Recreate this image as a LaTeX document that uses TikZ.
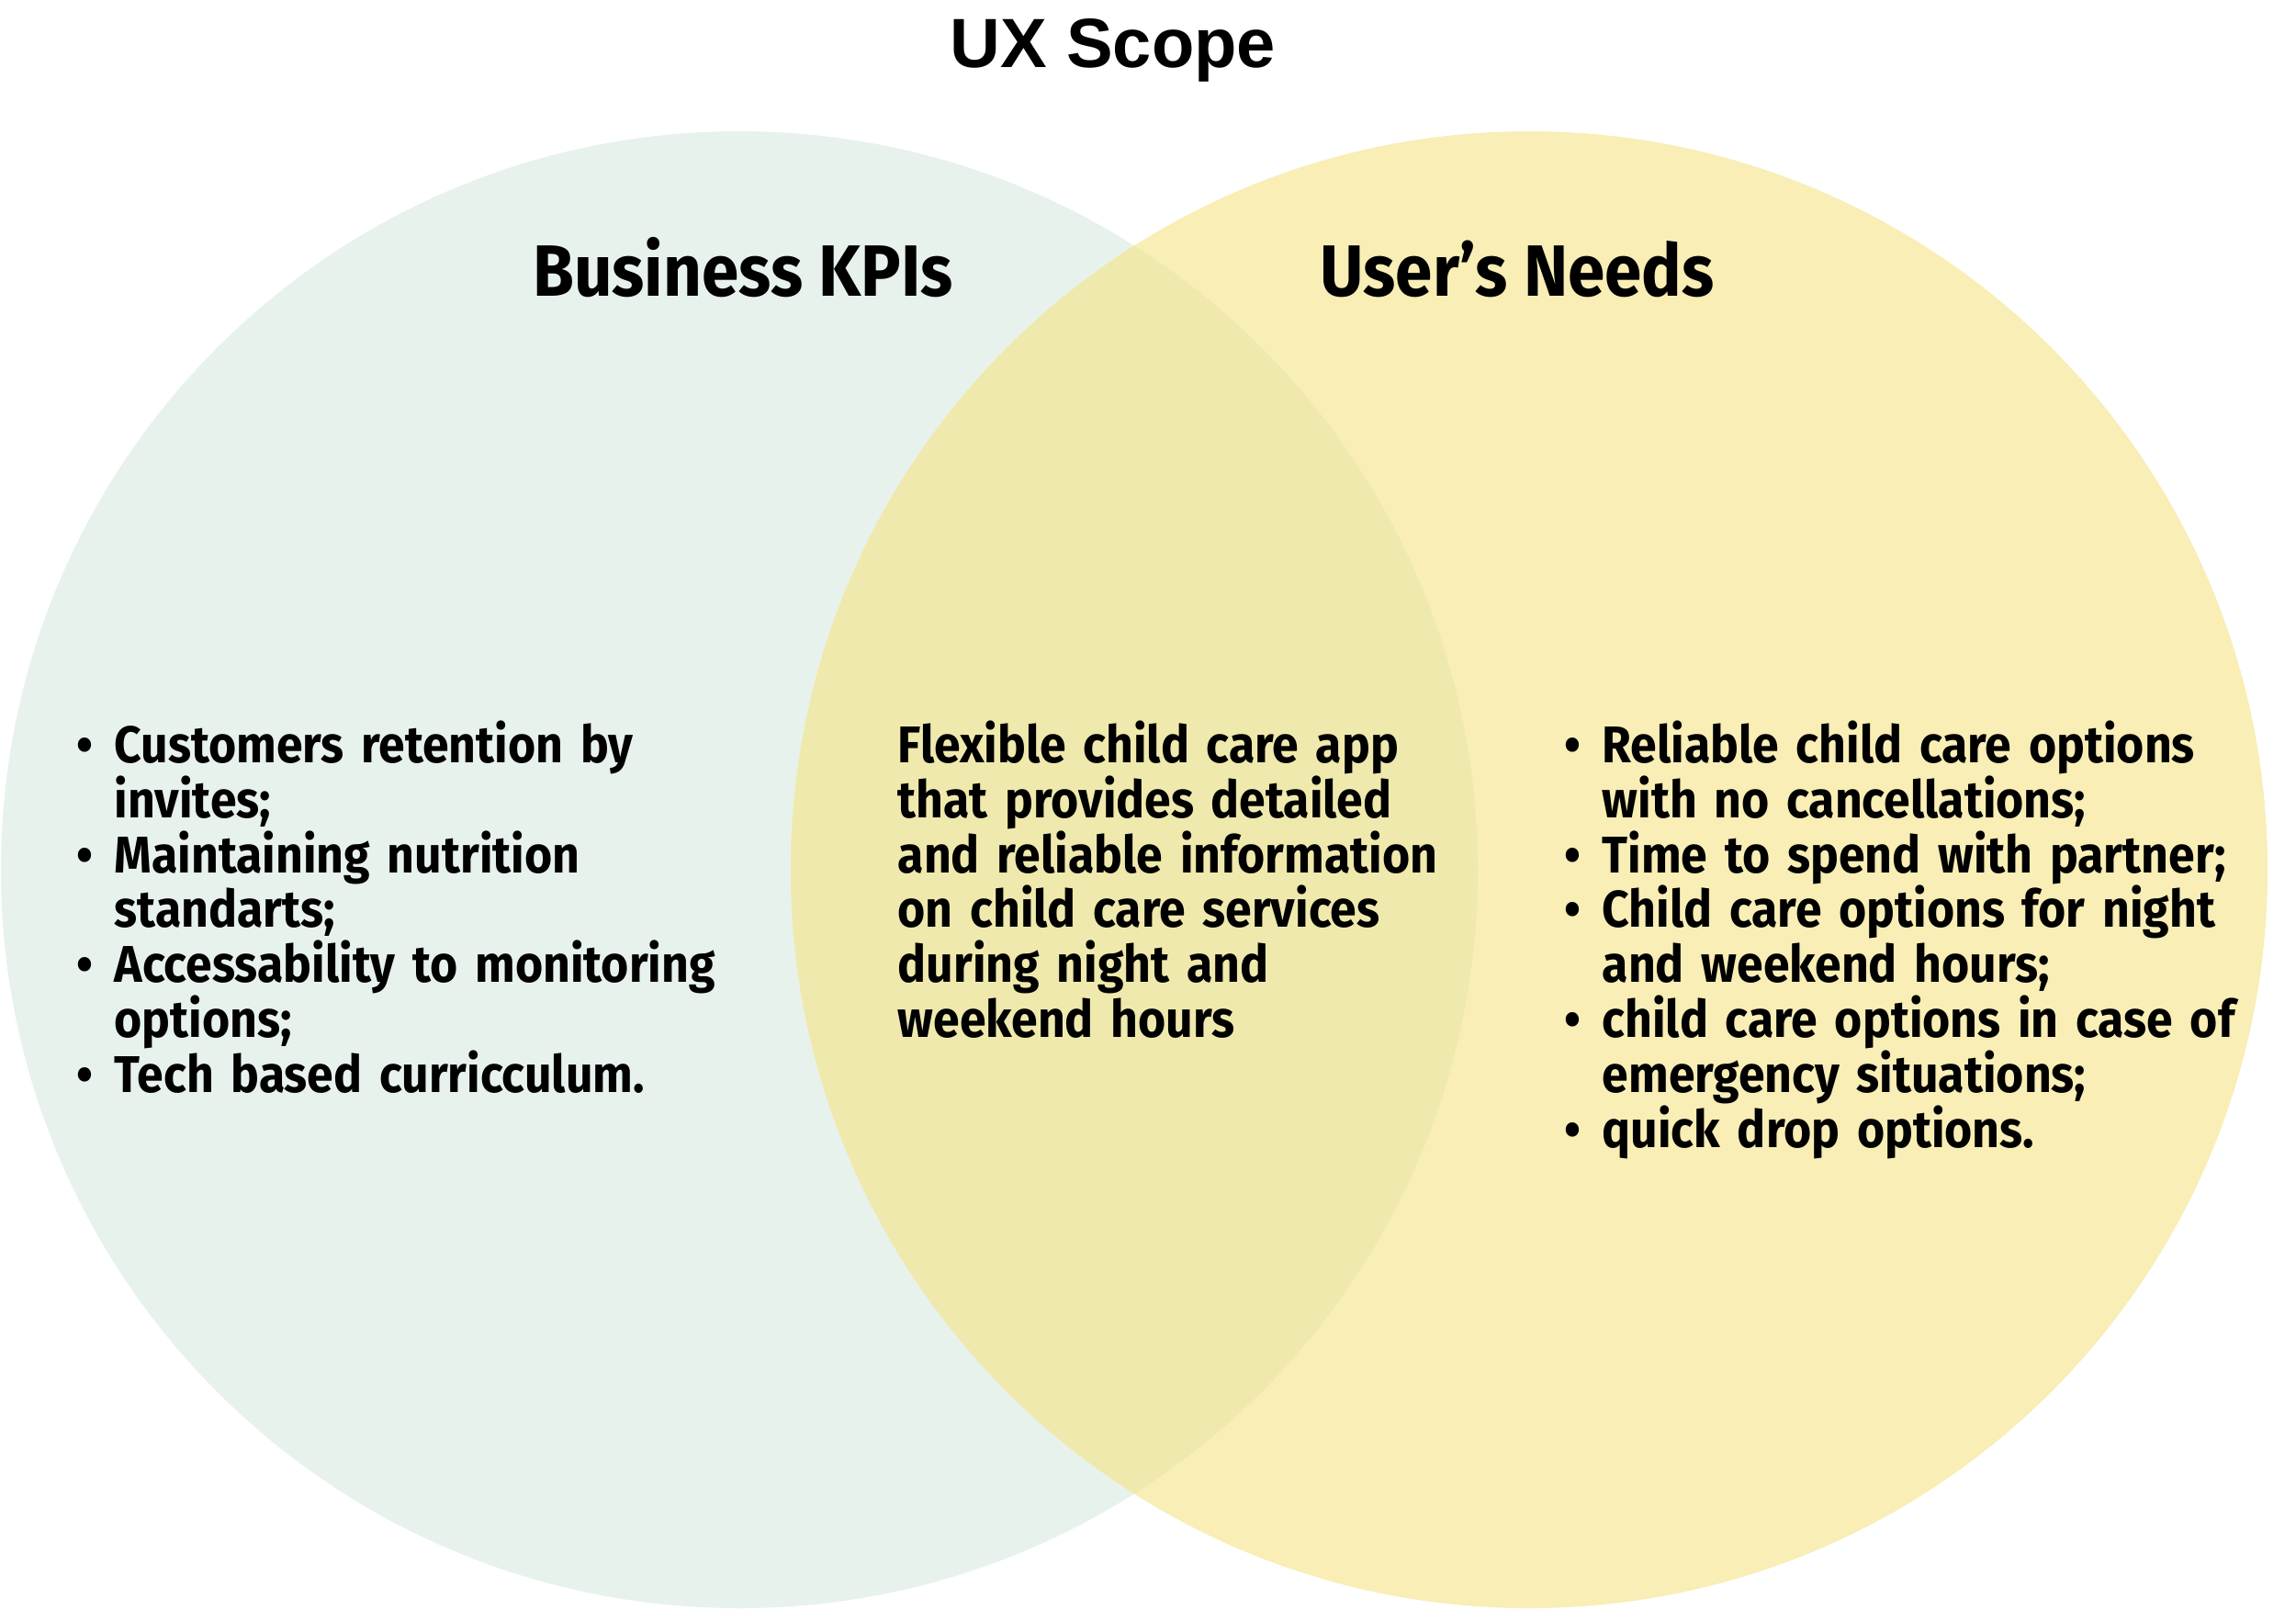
\documentclass[tikz,border=0pt]{standalone}
\usepackage{fontspec}
\setmainfont{Fira Sans}[FakeStretch=0.92]
\newfontfamily\titlefont{Liberation Sans}
\usetikzlibrary{positioning}

\definecolor{kpigreen}{HTML}{E8F2EC}
\definecolor{needyellow}{HTML}{F8EEB6}
\definecolor{overlapyellow}{HTML}{EFE9AD}

\tikzset{
  title/.style={
    anchor = base,
    inner sep = 0pt,
    font = \titlefont\bfseries\fontsize{21.6pt}{26pt}\selectfont
  },
  heading/.style={
    anchor = base,
    inner sep = 0pt,
    font = \bfseries\fontsize{22.5pt}{26pt}\selectfont
  },
  listtext/.style={
    anchor = base west,
    inner sep = 0pt,
    align = left,
    text width = 9cm,
    font = \bfseries\fontsize{16pt}{17.07pt}\selectfont
  }
}
\newcommand{\bul}{\noindent\hangindent=0.41cm\hangafter=1\makebox[0.41cm][l]{\textbullet}}

\begin{document}
\begin{tikzpicture}
    \useasboundingbox (0,0) rectangle (25,-17.52);

    \coordinate (kpi) at (8.05,-9.47);
    \coordinate (needs) at (16.65,-9.47);

    \fill[kpigreen] (kpi) circle (8.04);
    \fill[needyellow] (needs) circle (8.04);
    \begin{scope}
        \clip (kpi) circle (8.04);
        \fill[overlapyellow] (needs) circle (8.04);
    \end{scope}

    \node[title] (scope) at (12.12,-0.73) {UX Scope};
    \node[heading] (kpihead) at (8.09,-3.22) {Business KPIs};
    \node[heading] (needhead) at (16.52,-3.22) {User’s Needs};

    \node[listtext] (kpilist) at (0.83,-8.30) {%
        \bul Customers retention by\newline invites;\par
        \bul Maintaining nutrition\newline standarts;\par
        \bul Accessability to monitoring\newline options;\par
        \bul Tech based curricculum.};
    \node[listtext] (app) at (9.77,-8.30) {%
        Flexible child care app\\
        that provides detailed\\
        and reliable information\\
        on child care services\\
        during night and\\
        weekend hours};
    \node[listtext] (needlist) at (17.03,-8.30) {%
        \bul Reliable child care options\newline with no cancellations;\par
        \bul Time to spend with partner;\par
        \bul Child care options for night\newline and weekend hours;\par
        \bul child care options in case of\newline emergency situations;\par
        \bul quick drop options.};
\end{tikzpicture}
\end{document}
